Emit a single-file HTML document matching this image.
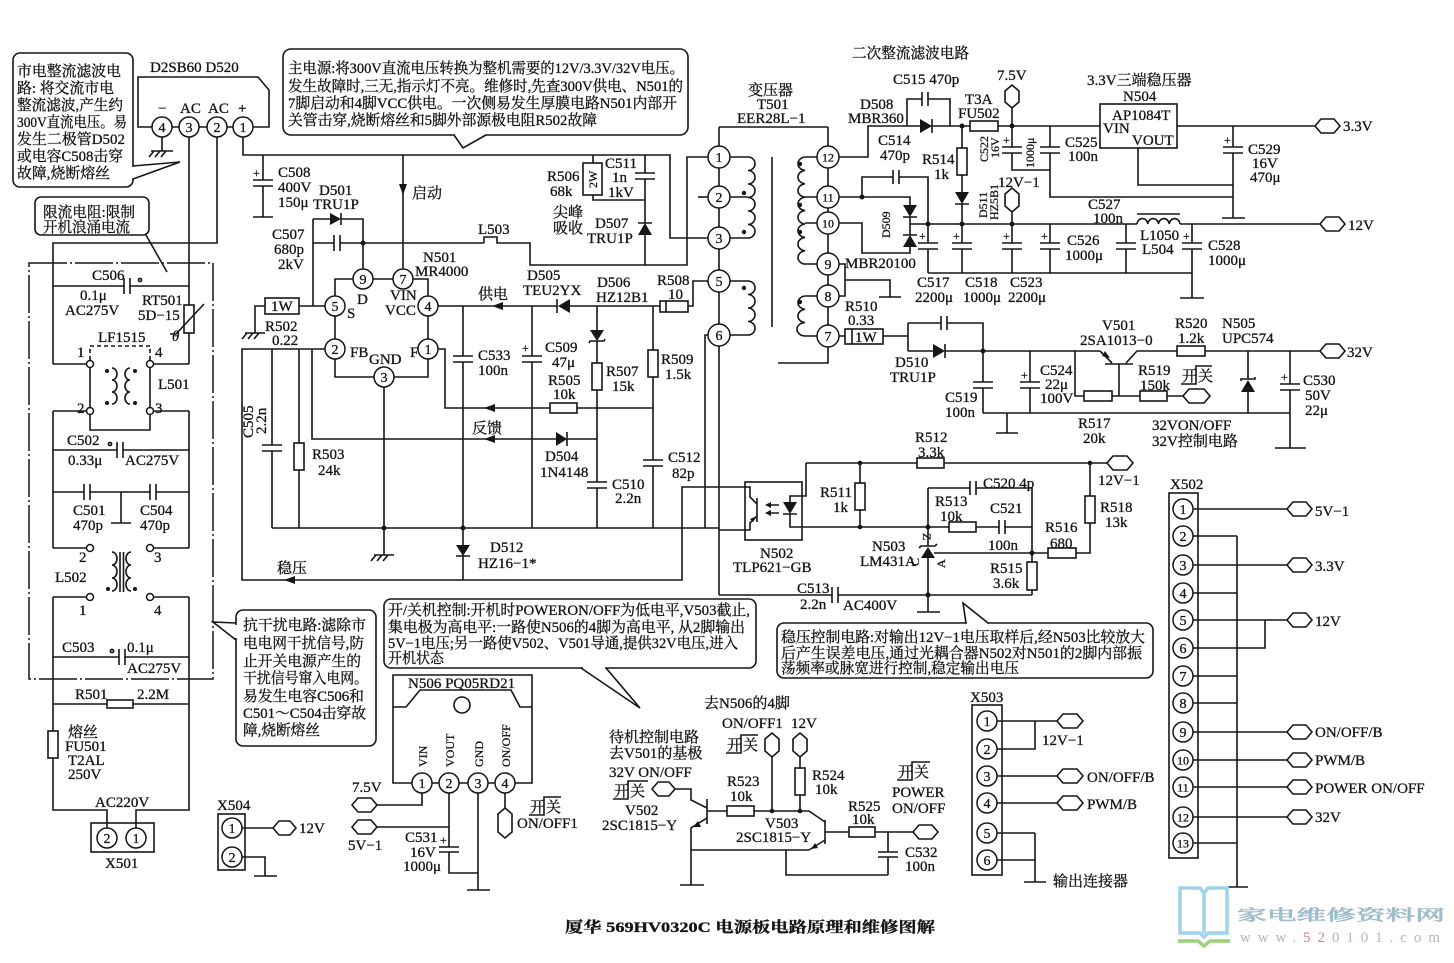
<!DOCTYPE html>
<html><head><meta charset="utf-8">
<style>
html,body{margin:0;padding:0;background:#fff;}
svg{display:block;}
text{font-family:"Liberation Serif","Noto Serif CJK SC","Noto Sans CJK SC",serif;font-size:15px;fill:#141414;stroke:#141414;stroke-width:0.3px;}
.s{stroke:#161616;stroke-width:1.6;fill:none;}
.d{stroke:#161616;stroke-width:1.5;fill:none;stroke-dasharray:38 3 2 3;}
.f{fill:#161616;stroke:none;}
.w{fill:#fff;stroke:#161616;stroke-width:1.5;}
.n{font-size:14px;text-anchor:middle;}
.n2{font-size:12px;text-anchor:middle;}
.sm{font-size:12px;}
</style></head><body>
<svg width="1454" height="963" viewBox="0 0 1454 963" xmlns="http://www.w3.org/2000/svg">
<rect width="1454" height="963" fill="#fff"/>

<!-- ================= TOP-LEFT CALLOUT ================= -->
<rect class="s" x="13" y="53" width="120" height="134" rx="7"/>
<line x1="133" y1="167" x2="133" y2="178" stroke="#fff" stroke-width="3"/>
<path class="s" d="M133,166 L180,162 L133,179"/>
<text x="17" y="76" textLength="104" lengthAdjust="spacingAndGlyphs">市电整流滤波电</text>
<text x="17" y="93" textLength="97" lengthAdjust="spacingAndGlyphs">路: 将交流市电</text>
<text x="17" y="110" textLength="106" lengthAdjust="spacingAndGlyphs">整流滤波,产生约</text>
<text x="17" y="127" textLength="110" lengthAdjust="spacingAndGlyphs">300V直流电压。易</text>
<text x="17" y="144" textLength="108" lengthAdjust="spacingAndGlyphs">发生二极管D502</text>
<text x="17" y="161" textLength="106" lengthAdjust="spacingAndGlyphs">或电容C508击穿</text>
<text x="17" y="178" textLength="93" lengthAdjust="spacingAndGlyphs">故障,烧断熔丝</text>

<!-- bridge -->
<text x="150" y="72">D2SB60  D520</text>
<path class="s" d="M152,127 L138,127 L138,77 L258,77 L269,90 L269,127 L253,127"/>
<path class="s" d="M172,127 L179,127 M199,127 L207,127 M227,127 L233,127"/>
<text x="158" y="113">−</text><text x="180" y="113">AC</text><text x="208" y="113">AC</text><text x="238" y="113">+</text>
<path class="s" d="M162,137 L162,151 M151,151 L173,151 M154,151 L149,157 M160,151 L155,157 M166,151 L161,157"/>
<path class="s" d="M189,137 L189,305 M217,137 L217,243 L53,243 L53,364 M243,137 L243,155 L670,155 L670,238 L708,238"/>
<circle class="w" cx="162" cy="127" r="10"/><text class="n" x="162" y="132">4</text>
<circle class="w" cx="189" cy="127" r="10"/><text class="n" x="189" y="132">3</text>
<circle class="w" cx="217" cy="127" r="10"/><text class="n" x="217" y="132">2</text>
<circle class="w" cx="243" cy="127" r="10"/><text class="n" x="243" y="132">1</text>

<!-- limiting callout -->
<rect class="s" x="35" y="197" width="114" height="38" rx="6"/>
<text x="43" y="217" textLength="92" lengthAdjust="spacingAndGlyphs">限流电阻:限制</text>
<text x="43" y="232" textLength="87" lengthAdjust="spacingAndGlyphs">开机浪涌电流</text>
<path class="s" d="M146,235 L167,272"/>

<!-- filter frame -->
<rect class="d" x="29" y="263" width="184" height="416"/>

<!-- C506 / RT501 -->
<path class="s" d="M53,286 L124,286 M130,286 L189,286 M124,278 L124,294 M130,278 L130,294"/>
<circle class="s" cx="140" cy="280" r="1.6"/>
<text x="92" y="280">C506</text><text x="80" y="300">0.1μ</text><text x="65" y="315">AC275V</text>
<rect class="s" x="184" y="305" width="10" height="28"/>
<path class="s" d="M189,333 L189,364 M170,334 L176,334 L204,304"/>
<text x="142" y="305">RT501</text><text x="138" y="320">5D−15</text><text x="172" y="341" font-style="italic">θ</text>
<text x="98" y="342">LF1515</text>

<!-- L501 -->
<path class="s" d="M53,364 L86.5,364 M153.5,364 L189,364 M53,411 L86.5,411 M153.5,411 L189,411 M90,368 L90,430 L150,430 L150,368"/>
<path class="s" stroke-dasharray="4 3" d="M90,360 L90,346 L150,346 L150,360"/>
<path class="s" d="M112,368 a5,6 0 0 1 0,12 a5,6 0 0 1 0,12 a5,6 0 0 1 0,12 M130,368 a5,6 0 0 0 0,12 a5,6 0 0 0 0,12 a5,6 0 0 0 0,12"/>
<circle class="f" cx="107" cy="371" r="2"/><circle class="f" cx="107" cy="403" r="2"/>
<circle class="f" cx="135" cy="371" r="2"/><circle class="f" cx="135" cy="403" r="2"/>
<circle class="w" cx="90" cy="364" r="3.5"/><circle class="w" cx="150" cy="364" r="3.5"/>
<circle class="w" cx="90" cy="411" r="3.5"/><circle class="w" cx="150" cy="411" r="3.5"/>
<text x="77" y="357">1</text><text x="155" y="357">4</text><text x="77" y="413">2</text><text x="155" y="413">3</text>
<text x="158" y="389">L501</text>

<!-- C502 -->
<path class="s" d="M53,411 L53,548 M189,411 L189,548 M53,450 L117,450 M123,450 L189,450 M117,442 L117,458 M123,442 L123,458"/>
<circle class="s" cx="110" cy="444" r="1.6"/>
<text x="67" y="445">C502</text><text x="68" y="465">0.33μ</text><text x="125" y="465">AC275V</text>
<!-- C501 C504 -->
<path class="s" d="M53,492 L84,492 M90,492 L150,492 M156,492 L189,492 M84,484 L84,500 M90,484 L90,500 M150,484 L150,500 M156,484 L156,500 M121,492 L121,523 M111,523 L131,523"/>
<text x="73" y="515">C501</text><text x="73" y="530">470p</text><text x="140" y="515">C504</text><text x="140" y="530">470p</text>

<!-- L502 -->
<path class="s" d="M53,548 L86.5,548 M153.5,548 L189,548 M53,597 L86.5,597 M153.5,597 L189,597"/>
<path class="s" d="M112,552 a5,6.5 0 0 1 0,13 a5,6.5 0 0 1 0,13 a5,6.5 0 0 1 0,13 M131,552 a5,6.5 0 0 0 0,13 a5,6.5 0 0 0 0,13 a5,6.5 0 0 0 0,13 M120,552 L120,592 M123.5,552 L123.5,592"/>
<circle class="f" cx="108" cy="589" r="2"/><circle class="f" cx="135" cy="589" r="2"/>
<circle class="w" cx="90" cy="548" r="3.5"/><circle class="w" cx="150" cy="548" r="3.5"/>
<circle class="w" cx="90" cy="597" r="3.5"/><circle class="w" cx="150" cy="597" r="3.5"/>
<text x="79" y="562">2</text><text x="154" y="562">3</text><text x="55" y="582">L502</text><text x="79" y="615">1</text><text x="154" y="615">4</text>

<!-- C503, R501, fuse, X501 -->
<path class="s" d="M53,597 L53,731 M53,758 L53,810 L107,810 L107,828 M189,597 L189,810 L136,810 L136,828"/>
<path class="s" d="M53,657 L119,657 M125,657 L189,657 M119,649 L119,665 M125,649 L125,665"/>
<circle class="s" cx="112" cy="651" r="1.6"/>
<text x="62" y="652">C503</text><text x="127" y="652">0.1μ</text><text x="127" y="673">AC275V</text>
<path class="s" d="M53,704 L107,704 M133,704 L189,704"/>
<rect class="s" x="107" y="700" width="26" height="8"/>
<text x="75" y="699">R501</text><text x="137" y="699">2.2M</text>
<rect class="s" x="48" y="731" width="10" height="27"/>
<text x="68" y="737">熔丝</text><text x="65" y="751">FU501</text><text x="68" y="765">T2AL</text><text x="68" y="779">250V</text>
<text x="95" y="807">AC220V</text>
<rect class="s" x="91" y="823" width="63" height="29"/>
<circle class="w" cx="107" cy="838" r="10"/><text class="n" x="107" y="843">2</text>
<circle class="w" cx="136" cy="838" r="10"/><text class="n" x="136" y="843">1</text>
<text x="105" y="868">X501</text>

<!-- anti-interference callout -->
<rect class="s" x="236" y="610" width="140" height="136" rx="7"/>
<line x1="236" y1="625" x2="236" y2="638" stroke="#fff" stroke-width="3"/>
<path class="s" d="M236,623 L213,622 L236,640"/>
<text x="243" y="630" textLength="123" lengthAdjust="spacingAndGlyphs">抗干扰电路:滤除市</text>
<text x="243" y="648" textLength="121" lengthAdjust="spacingAndGlyphs">电电网干扰信号,防</text>
<text x="243" y="666" textLength="118" lengthAdjust="spacingAndGlyphs">止开关电源产生的</text>
<text x="243" y="683" textLength="125" lengthAdjust="spacingAndGlyphs">干扰信号窜入电网。</text>
<text x="243" y="701" textLength="121" lengthAdjust="spacingAndGlyphs">易发生电容C506和</text>
<text x="243" y="718" textLength="123" lengthAdjust="spacingAndGlyphs">C501～C504击穿故</text>
<text x="243" y="735" textLength="77" lengthAdjust="spacingAndGlyphs">障,烧断熔丝</text>

<!-- X504 -->
<text x="217" y="810">X504</text>
<rect class="s" x="218" y="814" width="27" height="56"/>
<path class="s" d="M242,828 L273,828 M242,857 L265,857 L265,876 M254,876 L277,876"/>
<polygon class="s" points="273,828 279,821 290,821 296,828 290,835 279,835"/>
<text x="299" y="833">12V</text>
<circle class="w" cx="232" cy="828" r="10"/><text class="n" x="232" y="833">1</text>
<circle class="w" cx="232" cy="857" r="10"/><text class="n" x="232" y="862">2</text>

<!-- ================= MAIN CALLOUT ================= -->
<rect class="s" x="283" y="49" width="405" height="86" rx="8"/>
<line x1="455" y1="135" x2="485" y2="135" stroke="#fff" stroke-width="3"/>
<path class="s" d="M454,135 L463,148 L486,135"/>
<text x="288" y="73" textLength="396" lengthAdjust="spacingAndGlyphs">主电源:将300V直流电压转换为整机需要的12V/3.3V/32V电压。</text>
<text x="288" y="91" textLength="395" lengthAdjust="spacingAndGlyphs">发生故障时,三无,指示灯不亮。维修时,先查300V供电、N501的</text>
<text x="288" y="108" textLength="389" lengthAdjust="spacingAndGlyphs">7脚启动和4脚VCC供电。一次侧易发生厚膜电路N501内部开</text>
<text x="288" y="125" textLength="309" lengthAdjust="spacingAndGlyphs">关管击穿,烧断熔丝和5脚外部源极电阻R502故障</text>

<text x="852" y="58" textLength="117" lengthAdjust="spacingAndGlyphs">二次整流滤波电路</text>

<!-- ================= PRIMARY ================= -->
<path class="s" d="M263,155 L263,180 M253,180 L273,180 M253,186 L273,186 M263,186 L263,217 M253,217 L273,217"/>
<text class="sm" x="253" y="177">+</text>
<text x="278" y="177">C508</text><text x="278" y="192">400V</text><text x="278" y="207">150μ</text>
<path class="s" d="M403,155 L403,269"/>
<polygon class="f" points="399,184 407,184 403,195"/>
<text x="412" y="198">启动</text>
<path class="s" d="M313,219 L330,219 M341,219 L363,219 L363,269 M313,219 L313,306 M313,243 L334,243 M340,243 L484,243 M334,235 L334,251 M340,235 L340,251 M341,213 L341,225"/>
<polygon class="f" points="330,213 330,225 341,219"/>
<circle class="f" cx="363" cy="243" r="2.5"/>
<text x="319" y="195">D501</text><text x="313" y="209">TRU1P</text>
<text x="272" y="239">C507</text><text x="274" y="254">680p</text><text x="278" y="269">2kV</text>
<path class="s" d="M484,243 L484,237 L497,237 L497,243 L530,243 L530,265 L687,265 L687,157 L708,157"/>
<text x="478" y="234">L503</text>
<path class="s" d="M353,279 L335,279 L335,296 M373,279 L393,279 M413,279 L428,279 L428,296 M335,316 L335,339 M428,316 L428,339 M335,359 L335,377 L374,377 M428,359 L428,377 L394,377"/>
<circle class="w" cx="363" cy="279" r="10"/><text class="n" x="363" y="284">9</text>
<circle class="w" cx="403" cy="279" r="10"/><text class="n" x="403" y="284">7</text>
<circle class="w" cx="335" cy="306" r="10"/><text class="n" x="335" y="311">5</text>
<circle class="w" cx="428" cy="306" r="10"/><text class="n" x="428" y="311">4</text>
<circle class="w" cx="335" cy="349" r="10"/><text class="n" x="335" y="354">2</text>
<circle class="w" cx="428" cy="349" r="10"/><text class="n" x="428" y="354">1</text>
<circle class="w" cx="384" cy="377" r="10"/><text class="n" x="384" y="382">3</text>
<text x="423" y="262">N501</text><text x="415" y="276">MR4000</text>
<text x="357" y="304">D</text><text x="347" y="318">S</text>
<text x="390" y="300">VIN</text><text x="385" y="315">VCC</text>
<text x="350" y="357">FB</text><text x="369" y="364">GND</text><text x="410" y="357">F</text>
<rect class="s" x="265" y="298" width="34" height="16"/><text x="271" y="311">1W</text>
<path class="s" d="M299,306 L325,306 M265,306 L255,306 L255,333 M245,333 L265,333 M247,333 L242,339 M253,333 L248,339 M259,333 L254,339"/>
<text x="265" y="331">R502</text><text x="272" y="345">0.22</text>
<path class="s" d="M325,349 L242,349 L242,580 L682,580 L682,487 L745,487 M312,349 L312,439 L556,439 M567,439 L597,439"/>
<polygon class="f" points="556,432 556,446 567,439"/><path class="s" d="M567,432 L567,446"/>
<polygon class="f" points="484,439 495,435 495,443"/>
<text x="472" y="433">反馈</text>
<text x="545" y="461">D504</text><text x="540" y="477">1N4148</text>
<polygon class="f" points="284,580 295,576 295,584"/>
<text x="277" y="573">稳压</text>
<path class="s" d="M438,349 L445,349 L445,408 L550,408 M577,408 L653,408"/>
<rect class="s" x="550" y="403" width="27" height="10"/>
<polygon class="f" points="484,408 495,404 495,412"/>
<text x="548" y="385">R505</text><text x="553" y="399">10k</text>
<path class="s" d="M438,306 L557,306 M570,306 L660,306 M688,306 L693,306 L693,281 L708,281"/>
<polygon class="f" points="570,299 570,313 558,306"/><path class="s" d="M557,299 L557,313"/>
<polygon class="f" points="492,306 503,302 503,310"/>
<text x="478" y="299">供电</text>
<text x="527" y="280">D505</text><text x="523" y="295">TEU2YX</text>
<text x="597" y="287">D506</text><text x="596" y="302">HZ12B1</text>
<rect class="s" x="660" y="301" width="28" height="11"/><path class="s" d="M666,301 L666,312"/>
<text x="657" y="285">R508</text><text x="668" y="299">10</text>
<path class="s" d="M463,306 L463,356 M453,356 L473,356 M453,362 L473,362 M463,362 L463,528 M532,306 L532,356 M522,356 L542,356 M522,362 L542,362 M532,362 L532,528"/>
<text x="478" y="360">C533</text><text x="478" y="375">100n</text>
<text class="sm" x="522" y="352">+</text>
<text x="545" y="352">C509</text><text x="552" y="367">47μ</text>
<path class="s" d="M597,306 L597,330 M589,343 L590,341 L604,341 L605,339 M597,341 L597,363 M597,390 L597,482 M587,482 L607,482 M587,488 L607,488 M597,488 L597,528"/>
<polygon class="f" points="590,330 604,330 597,341"/>
<rect class="s" x="592" y="363" width="10" height="27"/>
<text x="606" y="376">R507</text><text x="612" y="391">15k</text>
<text x="612" y="489">C510</text><text x="615" y="503">2.2n</text>
<path class="s" d="M653,306 L653,350 M653,377 L653,460 M643,460 L663,460 M643,466 L663,466 M653,466 L653,528"/>
<rect class="s" x="648" y="350" width="10" height="27"/>
<text x="661" y="364">R509</text><text x="665" y="379">1.5k</text>
<text x="668" y="462">C512</text><text x="672" y="478">82p</text>
<path class="s" d="M272,349 L272,445 M262,445 L282,445 M262,451 L282,451 M272,451 L272,528 M299,349 L299,443 M299,470 L299,528"/>
<rect class="s" x="294" y="443" width="10" height="27"/>
<text transform="translate(253,438) rotate(-90)">C505</text>
<text transform="translate(266,434) rotate(-90)">2.2n</text>
<text x="312" y="459">R503</text><text x="318" y="475">24k</text>
<path class="s" d="M272,528 L719,528 M384,387 L384,555 M374,555 L394,555 M376,555 L371,561 M382,555 L377,561 M388,555 L383,561 M708,335 L705,335 L705,528"/>
<circle class="f" cx="384" cy="528" r="2.5"/><circle class="f" cx="463" cy="528" r="2.5"/>
<path class="s" d="M463,528 L463,545 M456,556 L470,556 M463,556 L463,580"/>
<polygon class="f" points="456,545 470,545 463,556"/>
<text x="490" y="552">D512</text><text x="478" y="568">HZ16−1*</text>

<path class="s" d="M593,155 L593,163 M593,195 L593,200 L645,200 M645,155 L645,173 M635,173 L655,173 M635,179 L655,179 M645,179 L645,223 M638,223 L652,223 M645,235 L645,265"/>
<rect class="s" x="583" y="163" width="19" height="32"/>
<text class="sm" transform="translate(597,188) rotate(-90)">2W</text>
<polygon class="f" points="638,235 652,235 645,223"/>
<text x="547" y="181">R506</text><text x="550" y="196">68k</text>
<text x="605" y="168">C511</text><text x="612" y="182">1n</text><text x="608" y="197">1kV</text>
<text x="553" y="217">尖峰</text><text x="553" y="233">吸收</text>
<text x="595" y="228">D507</text><text x="587" y="243">TRU1P</text>

<!-- ================= TRANSFORMER ================= -->
<text x="748" y="95">变压器</text><text x="757" y="109">T501</text><text x="737" y="123">EER28L−1</text>
<path class="s" d="M719,127 L828,127 M719,127 L719,595 M828,127 L828,363 L778,363"/>
<path class="s" d="M698,197 L708,197"/>
<path class="s" d="M730,157 L748,157 M730,197 L748,197 M730,238 L748,238 M730,281 L748,281 M730,335 L748,335"/>
<path class="s" d="M748,157 a7,6.75 0 0 1 0,13.5 a7,6.75 0 0 1 0,13.5 a7,6.75 0 0 1 0,13.5 a7,6.75 0 0 1 0,13.5 a7,6.75 0 0 1 0,13.5 a7,6.75 0 0 1 0,13.5"/>
<path class="s" d="M748,281 a7,6.75 0 0 1 0,13.5 a7,6.75 0 0 1 0,13.5 a7,6.75 0 0 1 0,13.5 a7,6.75 0 0 1 0,13.5"/>
<circle class="f" cx="744" cy="193" r="2.2"/><circle class="f" cx="744" cy="232" r="2.2"/><circle class="f" cx="744" cy="288" r="2.2"/>
<path class="s" d="M772,157 L772,327"/>
<path class="s" d="M805,157 L817,157 M805,197 L817,197 M805,223 L817,223 M805,264 L817,264 M805,296 L817,296 M805,336 L817,336"/>
<path class="s" d="M805,157 a8,6.75 0 0 0 0,13.4 a8,6.75 0 0 0 0,13.4 a8,6.75 0 0 0 0,13.4 a8,6.75 0 0 0 0,13.4 a8,6.75 0 0 0 0,13.4 a8,6.75 0 0 0 0,13.4 a8,6.75 0 0 0 0,13.4 a8,6.75 0 0 0 0,13.4"/>
<path class="s" d="M805,296 a8,6.7 0 0 0 0,13.3 a8,6.7 0 0 0 0,13.3 a8,6.7 0 0 0 0,13.4"/>
<circle class="f" cx="800" cy="164" r="2.2"/><circle class="f" cx="800" cy="205" r="2.2"/><circle class="f" cx="800" cy="232" r="2.2"/><circle class="f" cx="800" cy="302" r="2.2"/>
<circle class="w" cx="719" cy="157" r="11"/><text class="n" x="719" y="162">1</text>
<circle class="w" cx="719" cy="197" r="11"/><text class="n" x="719" y="202">2</text>
<circle class="w" cx="719" cy="238" r="11"/><text class="n" x="719" y="243">3</text>
<circle class="w" cx="719" cy="281" r="11"/><text class="n" x="719" y="286">5</text>
<circle class="w" cx="719" cy="335" r="11"/><text class="n" x="719" y="340">6</text>

<!-- ================= SECONDARY ================= -->
<path class="s" d="M839,157 L868,157 L868,126 L920,126 M932,126 L970,126 M998,126 L1100,126 M932,119 L932,133"/>
<polygon class="f" points="920,119 920,133 932,126"/>
<path class="s" d="M907,126 L907,99 L922,99 M928,99 L950,99 L950,126 M922,92 L922,106 M928,92 L928,106"/>
<rect class="s" x="970" y="121" width="28" height="10"/>
<text x="893" y="84">C515  470p</text>
<text x="860" y="109">D508</text><text x="848" y="123">MBR360</text>
<text x="965" y="104">T3A</text><text x="958" y="118">FU502</text>
<polygon class="s" points="1012,85 1019,91 1019,102 1012,108 1005,102 1005,91"/>
<text x="997" y="80">7.5V</text>
<path class="s" d="M1012,108 L1012,147 M1002,147 L1022,147 M1002,153 L1022,153 M1012,153 L1012,170 L1050,170 M1050,126 L1050,147 M1040,147 L1060,147 M1040,153 L1060,153 M1050,153 L1050,197 L1233,197"/>
<circle class="f" cx="1012" cy="126" r="2.5"/><circle class="f" cx="962" cy="126" r="2.5"/>
<text class="sm" x="1003" y="144">+</text>
<text class="sm" transform="translate(988,162) rotate(-90)">C522</text>
<text class="sm" transform="translate(999,158) rotate(-90)">16V</text>
<text class="sm" transform="translate(1034,168) rotate(-90)">1000μ</text>
<text x="1065" y="147">C525</text><text x="1068" y="161">100n</text>
<rect class="s" x="1100" y="104" width="77" height="44"/>
<text x="1087" y="85">3.3V三端稳压器</text><text x="1123" y="101">N504</text>
<text x="1112" y="120">AP1084T</text><text x="1103" y="133">VIN</text><text x="1132" y="145">VOUT</text>
<path class="s" d="M1177,126 L1315,126 M1233,126 L1233,147 M1223,147 L1243,147 M1223,153 L1243,153 M1233,153 L1233,218 M1222,218 L1245,218 M1138,148 L1138,185 L1233,185"/>
<text class="sm" x="1224" y="144">+</text>
<polygon class="s" points="1315,126 1321,119 1334,119 1340,126 1334,133 1321,133"/>
<text x="1343" y="131">3.3V</text>
<text x="1248" y="154">C529</text><text x="1252" y="168">16V</text><text x="1250" y="182">470μ</text>
<path class="s" d="M962,126 L962,148 M962,175 L962,192 M955,204 L969,204 M962,204 L962,224"/>
<rect class="s" x="957" y="148" width="10" height="27"/>
<polygon class="f" points="955,192 969,192 962,204"/>
<text x="922" y="164">R514</text><text x="934" y="179">1k</text>
<text class="sm" transform="translate(987,218) rotate(-90)">D511</text>
<text class="sm" transform="translate(998,220) rotate(-90)">HZ5B1</text>
<polygon class="s" points="1012,188 1019,194 1019,206 1012,212 1005,206 1005,194"/>
<path class="s" d="M1012,212 L1012,224"/>
<text x="998" y="187">12V−1</text>
<path class="s" d="M839,197 L910,197 L910,205 M839,223 L862,223 L862,253 L910,253 L910,247 M910,217 L910,235 M910,224 L1137,224 M862,197 L862,177 L893,177 M899,177 L928,177 L928,224 M893,170 L893,184 M899,170 L899,184 M903,217 L917,217 M903,235 L917,235"/>
<polygon class="f" points="903,205 917,205 910,217"/>
<polygon class="f" points="903,247 917,247 910,235"/>
<circle class="f" cx="862" cy="197" r="2.5"/>
<text class="sm" transform="translate(890,238) rotate(-90)">D509</text>
<text x="878" y="145">C514</text><text x="880" y="160">470p</text>
<text x="845" y="268">MBR20100</text>
<path class="s" d="M928,224 L928,243 M918,243 L938,243 M918,249 L938,249 M928,249 L928,273 M962,224 L962,243 M952,243 L972,243 M952,249 L972,249 M962,249 L962,273 M1012,224 L1012,243 M1002,243 L1022,243 M1002,249 L1022,249 M1012,249 L1012,273 M1050,224 L1050,243 M1040,243 L1060,243 M1040,249 L1060,249 M1050,249 L1050,273 M1126,224 L1126,243 M1116,243 L1136,243 M1116,249 L1136,249 M1126,249 L1126,273 M1192,224 L1192,243 M1182,243 L1202,243 M1182,249 L1202,249 M1192,249 L1192,298 M1180,298 L1204,298 M928,273 L1192,273"/>
<text class="sm" x="919" y="240">+</text><text class="sm" x="953" y="240">+</text><text class="sm" x="1003" y="240">+</text><text class="sm" x="1041" y="240">+</text><text class="sm" x="1183" y="240">+</text>
<circle class="f" cx="928" cy="224" r="2.5"/><circle class="f" cx="962" cy="224" r="2.5"/><circle class="f" cx="1012" cy="224" r="2.5"/>
<path class="s" d="M1137,224 a5.4,6 0 0 1 10.75,0 a5.4,6 0 0 1 10.75,0 a5.4,6 0 0 1 10.75,0 a5.4,6 0 0 1 10.75,0 M1137,214 L1180,214 M1180,224 L1320,224"/>
<polygon class="s" points="1320,224 1326,217 1339,217 1345,224 1339,231 1326,231"/>
<text x="1348" y="230">12V</text>
<text x="917" y="287">C517</text><text x="915" y="302">2200μ</text>
<text x="965" y="287">C518</text><text x="963" y="302">1000μ</text>
<text x="1010" y="287">C523</text><text x="1008" y="302">2200μ</text>
<text x="1067" y="245">C526</text><text x="1065" y="260">1000μ</text>
<text x="1088" y="209">C527</text><text x="1093" y="223">100n</text>
<text x="1140" y="240">L1050</text><text x="1142" y="254">L504</text>
<text x="1208" y="250">C528</text><text x="1208" y="265">1000μ</text>
<path class="s" d="M839,264 L845,264 L845,296 L839,296 M845,280 L890,280 L890,297 M879,297 L901,297"/>
<path class="s" d="M839,336 L845,336 M883,336 L908,336 M908,323 L908,351 M908,323 L941,323 M941,316 L941,330 M947,316 L947,330 M947,323 L983,323 L983,351 M908,351 L933,351 M945,344 L945,358 M945,351 L983,351"/>
<rect class="s" x="845" y="329" width="38" height="15"/><path class="s" d="M852,329 L852,344"/><text x="855" y="342">1W</text>
<polygon class="f" points="933,344 933,358 945,351"/>
<text x="845" y="311">R510</text><text x="848" y="325">0.33</text>
<text x="895" y="367">D510</text><text x="890" y="382">TRU1P</text>
<circle class="w" cx="828" cy="157" r="11"/><text class="n2" x="828" y="161.5">12</text>
<circle class="w" cx="828" cy="197" r="11"/><text class="n2" x="828" y="201.5">11</text>
<circle class="w" cx="828" cy="223" r="11"/><text class="n2" x="828" y="227.5">10</text>
<circle class="w" cx="828" cy="264" r="11"/><text class="n" x="828" y="269">9</text>
<circle class="w" cx="828" cy="296" r="11"/><text class="n" x="828" y="301">8</text>
<circle class="w" cx="828" cy="336" r="11"/><text class="n" x="828" y="341">7</text>
<circle class="f" cx="983" cy="351" r="2.5"/>
<path class="s" d="M983,351 L1100,351 M983,351 L983,382 M973,382 L993,382 M973,388 L993,388 M983,388 L983,413 M1030,351 L1030,382 M1020,382 L1040,382 M1020,388 L1040,388 M1030,388 L1030,413 M983,413 L1290,413 M1007,413 L1007,433 M996,433 L1018,433"/>
<text class="sm" x="1021" y="379">+</text>
<text x="945" y="402">C519</text><text x="945" y="417">100n</text>
<text x="1040" y="375">C524</text><text x="1045" y="389">22μ</text><text x="1040" y="403">100V</text>
<path class="s" d="M1075,351 L1075,396 L1084,396 M1112,396 L1140,396 M1167,396 L1183,396 M1100,351 L1112,363 M1105,364 L1133,364 M1126,363 L1137,351 L1177,351 M1119,364 L1119,396 M1205,351 L1320,351"/>
<polygon class="f" points="1102,356 1110,358 1105,351"/>
<rect class="s" x="1084" y="391" width="28" height="10"/>
<rect class="s" x="1140" y="391" width="27" height="10"/>
<rect class="s" x="1177" y="346" width="28" height="10"/>
<polygon class="s" points="1183,396 1189,389 1204,389 1210,396 1204,403 1189,403"/>
<path class="s" d="M1248,351 L1248,379 M1241,381 L1241,379 L1255,379 L1255,377 M1248,392 L1248,413"/>
<polygon class="f" points="1241,392 1255,392 1248,380"/>
<path class="s" d="M1290,351 L1290,384 M1280,384 L1300,384 M1280,390 L1300,390 M1290,390 L1290,448 M1275,448 L1306,448"/>
<text class="sm" x="1281" y="381">+</text>
<polygon class="s" points="1320,351 1326,344 1339,344 1345,351 1339,358 1326,358"/>
<text x="1347" y="357">32V</text>
<text x="1102" y="330">V501</text><text x="1080" y="345">2SA1013−0</text>
<text x="1175" y="328">R520</text><text x="1178" y="343">1.2k</text>
<text x="1222" y="328">N505</text><text x="1222" y="343">UPC574</text>
<text x="1138" y="375">R519</text><text x="1140" y="390">150k</text>
<text x="1182" y="381">开</text><text x="1198" y="381">关</text>
<path class="s" d="M1181,384 L1196,384 L1196,366 L1212,366"/>
<text x="1078" y="428">R517</text><text x="1083" y="443">20k</text>
<text x="1152" y="430">32VON/OFF</text><text x="1152" y="446">32V控制电路</text>
<text x="1303" y="385">C530</text><text x="1305" y="400">50V</text><text x="1305" y="415">22μ</text>

<!-- ================= REGULATION ================= -->
<rect class="s" x="745" y="482" width="57" height="58"/>
<path class="s" d="M719,530 L750,530 L750,523 L757,516 M745,487 L750,487 L750,497 L757,504 M757,498 L757,522"/>
<polygon class="f" points="757,516 750,519 753,522"/>
<path class="s" d="M806,463 L806,496 L790,496 L790,502 M783,514 L797,514 M790,514 L790,527 L928,527 M779,505 L767,505 M779,513 L767,513"/>
<polygon class="f" points="783,502 797,502 790,514"/>
<polygon class="f" points="765,505 771,502 771,508"/><polygon class="f" points="765,513 771,510 771,516"/>
<text x="760" y="558">N502</text><text x="733" y="572">TLP621−GB</text>
<path class="s" d="M806,463 L917,463 M944,463 L1107,463 M860,463 L860,483 M860,510 L860,527"/>
<rect class="s" x="917" y="458" width="27" height="10"/>
<rect class="s" x="855" y="483" width="10" height="27"/>
<circle class="f" cx="860" cy="463" r="2.3"/><circle class="f" cx="860" cy="527" r="2.3"/>
<polygon class="s" points="1107,463 1113,456 1127,456 1133,463 1127,470 1113,470"/>
<text x="1098" y="485">12V−1</text>
<text x="915" y="442">R512</text><text x="918" y="457">3.3k</text>
<text x="820" y="497">R511</text><text x="833" y="512">1k</text>
<path class="s" d="M1090,463 L1090,496 M1090,523 L1090,553 L1076,553 M1048,553 L1032,553 M934,553 L1032,553"/>
<rect class="s" x="1085" y="496" width="10" height="27"/>
<rect class="s" x="1048" y="548" width="28" height="10"/>
<circle class="f" cx="1032" cy="553" r="2.5"/><circle class="f" cx="1090" cy="463" r="2.3"/>
<path class="s" d="M928,488 L928,546 M919,548 L921,546 L935,546 L937,544 M928,558 L928,612 M917,612 L940,612"/>
<polygon class="f" points="921,558 935,558 928,547"/>
<circle class="f" cx="928" cy="527" r="2.5"/><circle class="f" cx="928" cy="595" r="2.5"/>
<path class="s" d="M928,488 L970,488 M970,481 L970,495 M976,481 L976,495 M976,488 L1032,488 L1032,562 M1032,590 L1032,595 M928,527 L949,527 M976,527 L999,527 M999,520 L999,534 M1005,520 L1005,534 M1005,527 L1032,527"/>
<rect class="s" x="949" y="522" width="27" height="10"/>
<rect class="s" x="1027" y="562" width="10" height="28"/>
<path class="s" d="M719,595 L832,595 M832,587 L832,603 M838,587 L838,603 M838,595 L1032,595"/>
<text x="983" y="488">C520  4p</text>
<text x="935" y="506">R513</text><text x="940" y="521">10k</text>
<text x="990" y="513">C521</text><text x="988" y="550">100n</text>
<text x="1100" y="512">R518</text><text x="1105" y="527">13k</text>
<text x="1045" y="532">R516</text><text x="1050" y="548">680</text>
<text x="990" y="573">R515</text><text x="993" y="588">3.6k</text>
<text x="872" y="551">N503</text><text x="860" y="566">LM431A</text>
<text class="sm" transform="translate(923,533) rotate(90)">Z</text>
<text class="sm" transform="translate(919,566) rotate(-90)">C</text>
<text class="sm" transform="translate(945,568) rotate(-90)">A</text>
<text x="797" y="593">C513</text><text x="800" y="609">2.2n</text><text x="843" y="610">AC400V</text>

<rect class="s" x="777" y="623" width="376" height="55" rx="7"/>
<line x1="967" y1="623" x2="987" y2="623" stroke="#fff" stroke-width="3"/>
<path class="s" d="M966,623 L963,603 L988,623"/>
<text x="781" y="642" font-size="14" textLength="364" lengthAdjust="spacingAndGlyphs">稳压控制电路:对输出12V−1电压取样后,经N503比较放大</text>
<text x="781" y="658" font-size="14" textLength="361" lengthAdjust="spacingAndGlyphs">后产生误差电压,通过光耦合器N502对N501的2脚内部振</text>
<text x="781" y="673" font-size="14" textLength="238" lengthAdjust="spacingAndGlyphs">荡频率或脉宽进行控制,稳定输出电压</text>

<!-- ================= ON/OFF CALLOUT ================= -->
<rect class="s" x="384" y="599" width="372" height="69" rx="7"/>
<line x1="583" y1="668" x2="605" y2="668" stroke="#fff" stroke-width="3"/>
<path class="s" d="M581,668 L640,708 L606,668"/>
<text x="388" y="615" font-size="14" textLength="362" lengthAdjust="spacingAndGlyphs">开/关机控制:开机时POWERON/OFF为低电平,V503截止,</text>
<text x="388" y="632" font-size="14" textLength="357" lengthAdjust="spacingAndGlyphs">集电极为高电平:一路使N506的4脚为高电平, 从2脚输出</text>
<text x="388" y="648" font-size="14" textLength="350" lengthAdjust="spacingAndGlyphs">5V−1电压;另一路使V502、V501导通,提供32V电压,进入</text>
<text x="388" y="663" font-size="14" textLength="56" lengthAdjust="spacingAndGlyphs">开机状态</text>

<!-- N506 -->
<path class="s" d="M412,783 L393,783 L393,675 L532,675 L532,783 L515,783 M432,783 L439,783 M459,783 L468,783 M488,783 L495,783"/>
<path class="s" d="M393,707 L406,707 L420,690 L511,690 L520,707 L532,707"/>
<circle class="s" cx="462" cy="705" r="8"/>
<text x="408" y="688" font-size="14">N506 PQ05RD21</text>
<text class="sm" transform="translate(427,767) rotate(-90)">VIN</text>
<text class="sm" transform="translate(454,767) rotate(-90)">VOUT</text>
<text class="sm" transform="translate(483,767) rotate(-90)">GND</text>
<text class="sm" transform="translate(510,767) rotate(-90)">ON/OFF</text>
<path class="s" d="M422,793 L422,805 L377,805 M449,793 L449,847 M439,847 L459,847 M439,852 L459,852 M449,852 L449,873 L478,873 M449,827 L377,827 M478,793 L478,890 M467,890 L490,890 M505,793 L505,808"/>
<text class="sm" x="440" y="844">+</text>
<circle class="w" cx="422" cy="783" r="10"/><text class="n" x="422" y="788">1</text>
<circle class="w" cx="449" cy="783" r="10"/><text class="n" x="449" y="788">2</text>
<circle class="w" cx="478" cy="783" r="10"/><text class="n" x="478" y="788">3</text>
<circle class="w" cx="505" cy="783" r="10"/><text class="n" x="505" y="788">4</text>
<polygon class="s" points="352,805 358,798 371,798 377,805 371,812 358,812"/>
<polygon class="s" points="352,827 358,820 371,820 377,827 371,834 358,834"/>
<text x="352" y="792">7.5V</text><text x="348" y="850">5V−1</text>
<text x="405" y="842">C531</text><text x="410" y="857">16V</text><text x="403" y="871">1000μ</text>
<polygon class="s" points="505,808 512,814 512,832 505,838 498,832 498,814"/>
<text x="530" y="812">开</text><text x="546" y="812">关</text>
<path class="s" d="M529,815 L544,815 L544,797 L561,797"/>
<text x="517" y="828">ON/OFF1</text>

<!-- standby control -->
<text x="704" y="708">去N506的4脚</text>
<text x="722" y="728">ON/OFF1</text><text x="791" y="728">12V</text>
<polygon class="s" points="772,733 779,739 779,751 772,757 765,751 765,739"/>
<polygon class="s" points="800,733 807,739 807,751 800,757 793,751 793,739"/>
<text x="727" y="750">开</text><text x="743" y="750">关</text>
<path class="s" d="M726,753 L741,753 L741,735 L758,735"/>
<text x="609" y="742">待机控制电路</text>
<text x="609" y="758">去V501的基极</text>
<text x="609" y="777">32V  ON/OFF</text>
<text x="614" y="796">开</text><text x="630" y="796">关</text>
<path class="s" d="M613,799 L628,799 L628,781 L648,781"/>
<polygon class="s" points="652,789 658,782 669,782 675,789 669,796 658,796"/>
<path class="s" d="M675,789 L691,789 L691,800 L707,808 M707,799 L707,824 M707,818 L691,828 L691,885 M680,885 L704,885 M707,811 L727,811 M754,811 L809,811 M772,757 L772,811 M800,757 L800,768 M800,795 L800,811 M809,811 L825,822 M825,820 L825,844 M825,840 L809,850 M691,850 L809,850 M786,850 L786,875 L888,875 M825,832 L849,832 M875,832 L913,832 M888,832 L888,852 M878,852 L898,852 M878,857 L898,857 M888,857 L888,875"/>
<polygon class="f" points="693,827 698,821 701,827"/>
<polygon class="f" points="811,849 815,843 818,848"/>
<circle class="f" cx="772" cy="811" r="2.3"/><circle class="f" cx="800" cy="811" r="2.3"/>
<rect class="s" x="727" y="806" width="27" height="10"/>
<rect class="s" x="795" y="768" width="10" height="27"/>
<rect class="s" x="849" y="827" width="26" height="10"/>
<polygon class="s" points="913,832 919,825 932,825 938,832 932,839 919,839"/>
<text x="625" y="815">V502</text><text x="602" y="830">2SC1815−Y</text>
<text x="727" y="786">R523</text><text x="730" y="801">10k</text>
<text x="812" y="780">R524</text><text x="815" y="794">10k</text>
<text x="765" y="828">V503</text><text x="736" y="842">2SC1815−Y</text>
<text x="848" y="811">R525</text><text x="852" y="824">10k</text>
<text x="898" y="777">开</text><text x="914" y="777">关</text>
<path class="s" d="M897,780 L912,780 L912,762 L930,762"/>
<text x="892" y="797">POWER</text><text x="892" y="813">ON/OFF</text>
<text x="905" y="857">C532</text><text x="905" y="871">100n</text>

<!-- ================= X503 ================= -->
<text x="970" y="702">X503</text>
<rect class="s" x="972" y="705" width="30" height="170"/>
<path class="s" d="M997,721 L1057,721 M997,749 L1035,749 L1035,721 M997,776 L1057,776 M997,803 L1057,803 M997,833 L1035,833 M997,860 L1035,860 M1035,833 L1035,882 M1024,882 L1046,882"/>
<polygon class="s" points="1057,721 1063,714 1077,714 1083,721 1077,728 1063,728"/>
<polygon class="s" points="1057,776 1063,769 1077,769 1083,776 1077,783 1063,783"/>
<polygon class="s" points="1057,803 1063,796 1077,796 1083,803 1077,810 1063,810"/>
<circle class="w" cx="987" cy="721" r="10"/><text class="n" x="987" y="726">1</text>
<circle class="w" cx="987" cy="749" r="10"/><text class="n" x="987" y="754">2</text>
<circle class="w" cx="987" cy="776" r="10"/><text class="n" x="987" y="781">3</text>
<circle class="w" cx="987" cy="803" r="10"/><text class="n" x="987" y="808">4</text>
<circle class="w" cx="987" cy="833" r="10"/><text class="n" x="987" y="838">5</text>
<circle class="w" cx="987" cy="860" r="10"/><text class="n" x="987" y="865">6</text>
<text x="1042" y="745">12V−1</text>
<text x="1087" y="782">ON/OFF/B</text>
<text x="1087" y="809">PWM/B</text>
<text x="1053" y="886">输出连接器</text>

<!-- ================= X502 ================= -->
<text x="1170" y="489">X502</text>
<rect class="s" x="1169" y="493" width="29" height="365"/>
<path class="s" d="M1237,536 L1237,887 M1227,887 L1248,887 M1193,509 L1287,509 M1193,536 L1237,536 M1193,565 L1287,565 M1193,593 L1237,593 M1193,620 L1287,620 M1193,648 L1265,648 L1265,620 M1193,676 L1237,676 M1193,703 L1237,703 M1193,732 L1287,732 M1193,760 L1287,760 M1193,787 L1287,787 M1193,817 L1287,817 M1193,843 L1237,843"/>
<polygon class="s" points="1287,509 1293,502 1306,502 1312,509 1306,516 1293,516"/>
<polygon class="s" points="1287,565 1293,558 1306,558 1312,565 1306,572 1293,572"/>
<polygon class="s" points="1287,620 1293,613 1306,613 1312,620 1306,627 1293,627"/>
<polygon class="s" points="1287,732 1293,725 1306,725 1312,732 1306,739 1293,739"/>
<polygon class="s" points="1287,760 1293,753 1306,753 1312,760 1306,767 1293,767"/>
<polygon class="s" points="1287,787 1293,780 1306,780 1312,787 1306,794 1293,794"/>
<polygon class="s" points="1287,817 1293,810 1306,810 1312,817 1306,824 1293,824"/>
<circle class="w" cx="1183" cy="509" r="10"/><text class="n" x="1183" y="514">1</text>
<circle class="w" cx="1183" cy="536" r="10"/><text class="n" x="1183" y="541">2</text>
<circle class="w" cx="1183" cy="565" r="10"/><text class="n" x="1183" y="570">3</text>
<circle class="w" cx="1183" cy="593" r="10"/><text class="n" x="1183" y="598">4</text>
<circle class="w" cx="1183" cy="620" r="10"/><text class="n" x="1183" y="625">5</text>
<circle class="w" cx="1183" cy="648" r="10"/><text class="n" x="1183" y="653">6</text>
<circle class="w" cx="1183" cy="676" r="10"/><text class="n" x="1183" y="681">7</text>
<circle class="w" cx="1183" cy="703" r="10"/><text class="n" x="1183" y="708">8</text>
<circle class="w" cx="1183" cy="732" r="10"/><text class="n" x="1183" y="737">9</text>
<circle class="w" cx="1183" cy="760" r="10"/><text class="n2" x="1183" y="764.5">10</text>
<circle class="w" cx="1183" cy="787" r="10"/><text class="n2" x="1183" y="791.5">11</text>
<circle class="w" cx="1183" cy="817" r="10"/><text class="n2" x="1183" y="821.5">12</text>
<circle class="w" cx="1183" cy="843" r="10"/><text class="n2" x="1183" y="847.5">13</text>
<text x="1315" y="516">5V−1</text>
<text x="1315" y="571">3.3V</text>
<text x="1315" y="626">12V</text>
<text x="1315" y="737">ON/OFF/B</text>
<text x="1315" y="765">PWM/B</text>
<text x="1315" y="793">POWER ON/OFF</text>
<text x="1315" y="822">32V</text>

<!-- ================= TITLE & LOGO ================= -->
<text x="565" y="932" font-size="17" font-weight="bold" textLength="370" lengthAdjust="spacingAndGlyphs">厦华 569HV0320C 电源板电路原理和维修图解</text>
<path d="M1180,888 L1200,888 L1204,893 L1208,888 L1227,888 L1227,933 L1208,933 L1204,937 L1200,933 L1180,933 Z M1204,893 L1204,933" fill="none" stroke="#9fd4e8" stroke-width="3.5"/>
<path d="M1178,941 L1198,941 L1204,946 L1210,941 L1230,941" fill="none" stroke="#9ad27a" stroke-width="3.5"/>
<text x="1237" y="920" font-size="36" textLength="208" lengthAdjust="spacingAndGlyphs" style="fill:#9fbccb;stroke:#9fbccb;stroke-width:0.6px">家电维修资料网</text>
<text x="1240" y="942" font-size="12" textLength="200" lengthAdjust="spacing" style="fill:#b5b5b5;stroke:none">www.<tspan style="fill:#e08080">52</tspan>0101.com</text>
</svg>
</body></html>
